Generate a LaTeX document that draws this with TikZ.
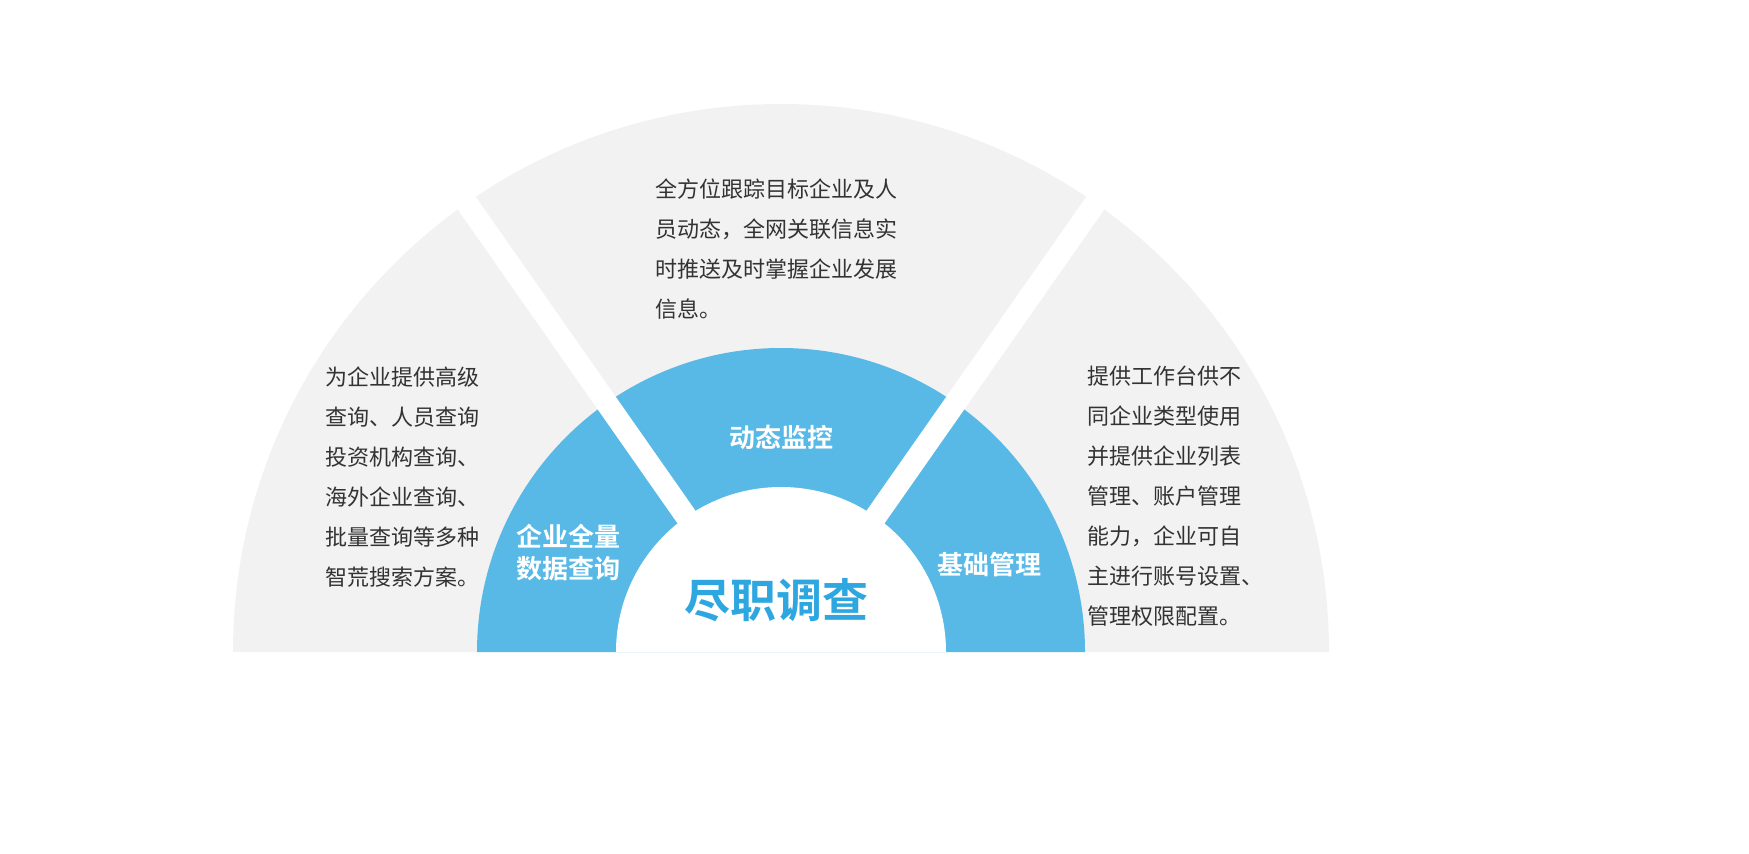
\documentclass[tikz,border=0pt]{standalone}
\usepackage{fontspec}
\setmainfont{Noto Sans CJK SC}
\newfontfamily\cjkb{Noto Sans CJK SC Bold}
\begin{document}
\begin{tikzpicture}[x=0.5pt,y=0.5pt,
  body/.style={align=left,anchor=north west,inner sep=0pt,text=black!80,font=\fontsize{11}{20}\selectfont},
  lab/.style={align=center,text=white,font=\cjkb\fontsize{13}{16}\selectfont}]
\useasboundingbox (0,0) rectangle (1749,853);
\coordinate (c) at (781,201);
\fill[black!5] (c) ++(0:548) arc (0:180:548) -- cycle;
\fill[fill={rgb,255:red,88;green,185;blue,230}] (c) ++(0:304) arc (0:180:304) -- cycle;
\fill[white] (c) ++(0:165) arc (0:180:165) -- cycle;
\draw[white,line width=11pt] (c) ++(55:150) -- ++(55:420);
\draw[white,line width=11pt] (c) ++(125:150) -- ++(125:420);
\node[body] (l) at (325,487) {为企业提供高级\\查询、人员查询\\投资机构查询、\\海外企业查询、\\批量查询等多种\\智荒搜索方案。};
\node[body] (t) at (655,675) {全方位跟踪目标企业及人\\员动态，全网关联信息实\\时推送及时掌握企业发展\\信息。};
\node[body] (r) at (1087,487) {提供工作台供不\\同企业类型使用\\并提供企业列表\\管理、账户管理\\能力，企业可自\\主进行账号设置、\\管理权限配置。};
\node[lab] (a) at (781,416) {动态监控};
\node[lab] (b) at (568,300) {企业全量\\数据查询};
\node[lab] (d) at (989,288) {基础管理};
\node[text={rgb,255:red,46;green,167;blue,224},font=\cjkb\fontsize{23}{26}\selectfont] (m) at (776,253) {尽职调查};
\end{tikzpicture}
\end{document}
